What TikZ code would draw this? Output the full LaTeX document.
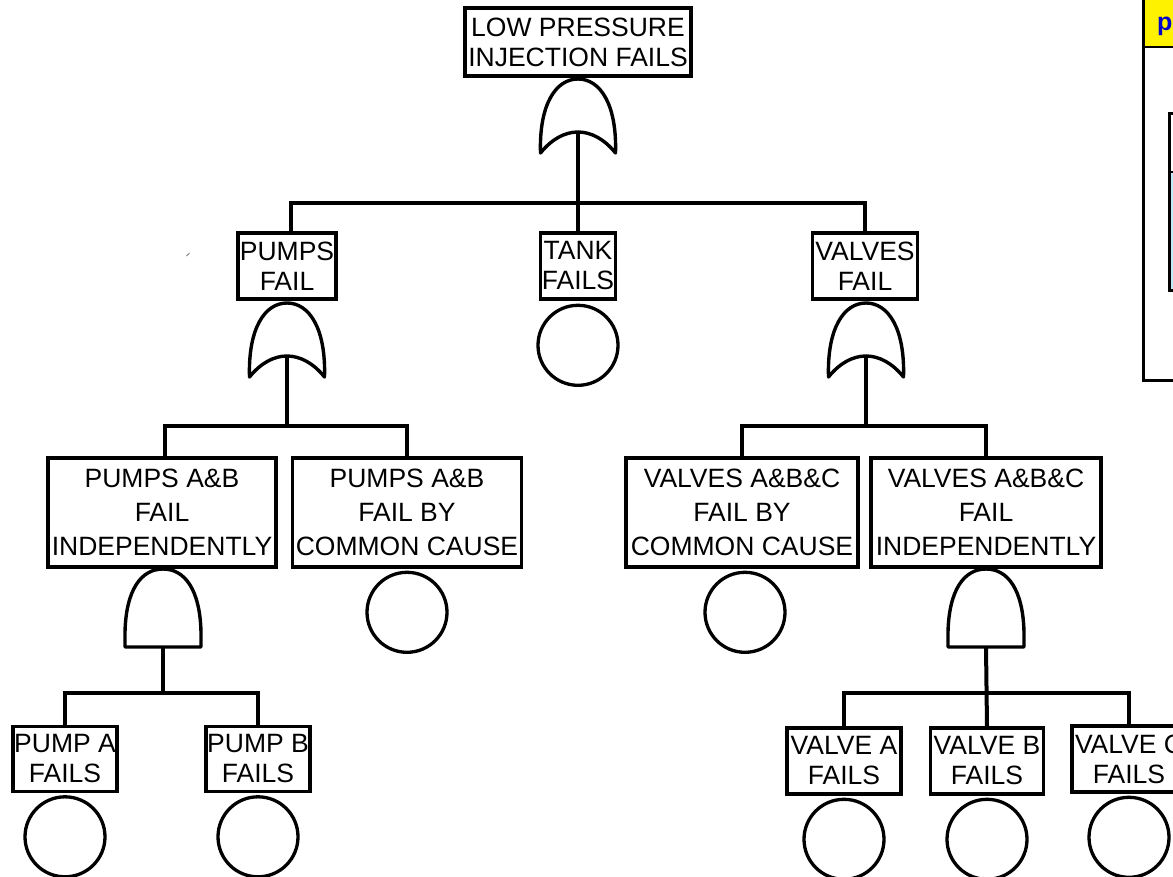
\documentclass[tikz,border=0pt]{standalone}
\usepackage{fontspec}
\setmainfont{Liberation Sans}
\begin{document}
\begin{tikzpicture}[x=1pt,y=-1pt,
  evt/.style={draw, line width=3.3pt, inner sep=0pt, align=center,
    font=\fontsize{26.5}{30}\selectfont},
  evtthree/.style={evt, font=\fontsize{26.5}{34}\selectfont,
    minimum height=109pt},
  basic/.style={draw, circle, line width=3.3pt, minimum size=80pt, inner sep=0pt},
  link/.style={line width=4pt},
  gateline/.style={draw, line width=3.4pt, fill=white, line join=round}]
\useasboundingbox (0,0) rectangle (1173,876);

% ---------- OR gate, apex at local (0,0); output point (0,53)
\newcommand\orgate[2]{%
  \begin{scope}[shift={#2}]
    \path[gateline] (-37.5,74) .. controls (-39,25) and (-22,0) .. (0,0)
      .. controls (22,0) and (39,25) .. (37.5,74)
      .. controls (15,46) and (-15,46) .. cycle;
    \coordinate (#1) at (0,53);
  \end{scope}}
% ---------- AND gate, apex at local (0,0); output point (0,78)
\newcommand\andgate[2]{%
  \begin{scope}[shift={#2}]
    \path[gateline] (-38,78) -- (-38,63) .. controls (-37,21) and (-22,0) .. (0,0)
      .. controls (22,0) and (37,21) .. (38,63) -- (38,78) -- cycle;
    \coordinate (#1) at (0,78);
  \end{scope}}

% ---------- events
\node[evt, minimum width=226pt, minimum height=68pt] (top) at (578,42) {LOW PRESSURE\\INJECTION FAILS};

\node[evt, minimum width=98pt,  minimum height=66pt] (pumps)  at (287,266) {PUMPS\\FAIL};
\node[evt, minimum width=75pt,  minimum height=66pt] (tank)   at (578,266) {TANK\\FAILS};
\node[evt, minimum width=105pt, minimum height=66pt] (valves) at (865,266) {VALVES\\FAIL};

\node[evtthree, minimum width=228pt] (pind) at (162,512.5) {PUMPS A\&B\\FAIL\\INDEPENDENTLY};
\node[evtthree, minimum width=229pt] (pccf) at (407,512.5) {PUMPS A\&B\\FAIL BY\\COMMON CAUSE};
\node[evtthree, minimum width=232pt] (vccf) at (742,512.5) {VALVES A\&B\&C\\FAIL BY\\COMMON CAUSE};
\node[evtthree, minimum width=230pt] (vind) at (986,512.5) {VALVES A\&B\&C\\FAIL\\INDEPENDENTLY};

\node[evt, minimum width=104pt, minimum height=65pt] (pa) at (65,759)  {PUMP A\\FAILS};
\node[evt, minimum width=104pt, minimum height=65pt] (pb) at (258,759) {PUMP B\\FAILS};
\node[evt, minimum width=114pt, minimum height=66pt] (va) at (844,761) {VALVE A\\FAILS};
\node[evt, minimum width=113pt, minimum height=66pt] (vb) at (987,761) {VALVE B\\FAILS};
\node[evt, minimum width=114pt, minimum height=66pt] (vc) at (1129,759) {VALVE C\\FAILS};

% ---------- gates
\orgate{g0}{(578,79)}
\orgate{g1}{(287,303)}
\orgate{g2}{(866,303)}
\andgate{g3}{(163,569)}
\andgate{g4}{(986,569)}

% ---------- basic events
\node[basic, anchor=north] (ctank) at ([yshift=-3pt]tank.south) {};
\node[basic, anchor=north] (cpccf) at ([yshift=-2pt]pccf.south) {};
\node[basic, anchor=north] (cvccf) at ([xshift=3pt,yshift=-2pt]vccf.south) {};
\node[basic, anchor=north] (cpa) at ([yshift=-2pt]pa.south) {};
\node[basic, anchor=north] (cpb) at ([yshift=-2pt]pb.south) {};
\node[basic, anchor=north] (cva) at ([yshift=-2pt]va.south) {};
\node[basic, anchor=north] (cvb) at ([yshift=-2pt]vb.south) {};
\node[basic, anchor=north] (cvc) at ([yshift=-2pt]vc.south) {};

% ---------- connectors
\draw[link] (g0) -- (tank.north);
\draw[link] ([xshift=4pt]pumps.north) -- ++(0,-28) -| (valves.north);

\draw[link] (g1) -- ([yshift=30pt]g1 |- pind.north);
\draw[link] ([xshift=3pt]pind.north) -- ++(0,-30) -| (pccf.north);

\draw[link] (g2) -- ([yshift=30pt]g2 |- vccf.north);
\draw[link] (vccf.north) -- ++(0,-30) -| (vind.north);

\draw[link] (g3) -- ([yshift=32pt]g3 |- pa.north);
\draw[link] (pa.north) -- ++(0,-32) -| (pb.north);

\draw[link] (g4) -- (vb.north);
\draw[link] (va.north) -- ++(0,-33) -| (vc.north);

% ---------- stray mark
\draw[gray, line width=0.8pt] (186.5,256) -- (189.5,253);

% ---------- side panel
\fill[yellow] (1143,-5) rectangle (1180,47);
\draw[line width=1.5pt] (1143,47) -- (1180,47);
\node[anchor=base west, inner sep=0pt, text=blue!80!black,
  font=\fontsize{25}{30}\selectfont\bfseries] (ptitle) at (1157,30) {p};
\draw[line width=3pt] (1143,-5) -- (1143,380) -- (1180,380);
\fill[cyan!25!white] (1169,172) rectangle (1180,290);
\draw[line width=3pt] (1180,113) -- (1169,113) -- (1169,290) -- (1180,290);
\draw[line width=2pt] (1169,172) -- (1180,172);
\end{tikzpicture}
\end{document}
